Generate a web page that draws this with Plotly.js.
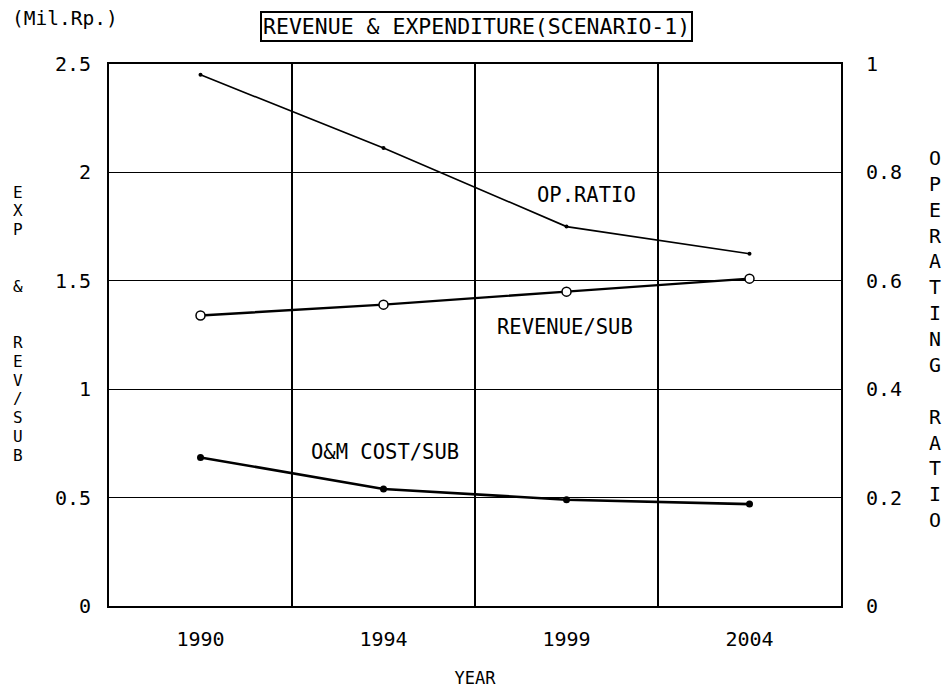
<!DOCTYPE html>
<html>
<head>
<meta charset="utf-8">
<script src="https://cdn.plot.ly/plotly-3.0.1.min.js"></script>
<style>html,body{margin:0;padding:0;background:#fff;}#chart{width:951px;height:696px;}</style>
</head>
<body>
<div id="chart"></div>
<script>
// ---- data ----
const years = ['1990', '1994', '1999', '2004'];
const revenuePerSub = [1.34, 1.39, 1.45, 1.51];
const omCostPerSub = [0.685, 0.54, 0.49, 0.47];
const opRatio = [0.98, 0.845, 0.70, 0.65];
const leftTicks = [0, 0.5, 1, 1.5, 2, 2.5];
const rightTicks = [0, 0.2, 0.4, 0.6, 0.8, 1];
const leftTitleLetters = ['E','X','P','','','&','','','R','E','V','/','S','U','B'];
const rightTitleLetters = ['O','P','E','R','A','T','I','N','G','','R','A','T','I','O'];
const chartTitle = 'REVENUE &amp; EXPENDITURE(SCENARIO-1)';
const unitLabel = '(Mil.Rp.)';

// ---- layout geometry ----
const W = 951, H = 696;
const M = {l: 109, r: 110, t: 64, b: 90};
const PW = W - M.l - M.r, PH = H - M.t - M.b;
const px2x = p => (p - M.l) / PW;
const py2y = p => (H - M.b - p) / PH;
const FONT = '"DejaVu Sans Mono", "Liberation Mono", monospace';
const stack = arr => arr.map(c => c === '&' ? '&amp;' : (c || '\u00A0')).join('<br>');

const traces = [
  {x: years, y: opRatio, yaxis: 'y2', type: 'scatter', mode: 'lines+markers',
   line: {color: '#000', width: 1.6}, marker: {color: '#000', size: 4}},
  {x: years, y: revenuePerSub, type: 'scatter', mode: 'lines+markers',
   line: {color: '#000', width: 2.4},
   marker: {symbol: 'circle', color: '#fff', size: 9, line: {color: '#000', width: 1.5}}},
  {x: years, y: omCostPerSub, type: 'scatter', mode: 'lines+markers',
   line: {color: '#000', width: 2.6}, marker: {symbol: 'circle', color: '#000', size: 7}}
];

const annotations = [
  {text: chartTitle, xref: 'paper', yref: 'paper', x: px2x(476.5), y: py2y(27),
   xanchor: 'center', yanchor: 'middle', showarrow: false,
   font: {family: FONT, size: 21.5, color: '#000'},
   bordercolor: '#000', borderwidth: 2, borderpad: 1, bgcolor: '#fff'},
  {text: unitLabel, xref: 'paper', yref: 'paper', x: px2x(10), y: py2y(18),
   xanchor: 'left', yanchor: 'middle', showarrow: false,
   font: {family: FONT, size: 19.5, color: '#000'}},
  {text: 'OP.RATIO', xref: 'x', yref: 'y', x: 2.11, y: 1.895, showarrow: false,
   font: {family: FONT, size: 20.5, color: '#000'}},
  {text: 'REVENUE/SUB', xref: 'x', yref: 'y', x: 1.99, y: 1.285, showarrow: false,
   font: {family: FONT, size: 20.5, color: '#000'}},
  {text: 'O&amp;M COST/SUB', xref: 'x', yref: 'y', x: 1.01, y: 0.71, showarrow: false,
   font: {family: FONT, size: 20.5, color: '#000'}},
  {text: stack(rightTitleLetters), xref: 'paper', yref: 'paper',
   x: px2x(935), y: py2y(339), xanchor: 'center', yanchor: 'middle', align: 'center',
   showarrow: false, font: {family: FONT, size: 19.9, color: '#000'}}
];

// left axis title: one upright letter per row
leftTitleLetters.forEach((ch, i) => {
  if (!ch) return;
  annotations.push({text: ch === '&' ? '&amp;' : ch, xref: 'paper', yref: 'paper',
    x: px2x(18), y: py2y(192 + i * 18.8), xanchor: 'center', yanchor: 'middle',
    showarrow: false, font: {family: FONT, size: 16, color: '#000'}});
});

const layout = {
  width: W, height: H, margin: M,
  paper_bgcolor: '#fff', plot_bgcolor: '#fff', showlegend: false,
  font: {family: FONT, color: '#000'},
  xaxis: {type: 'category', range: [-0.5, 3.5], tickson: 'boundaries',
    showgrid: true, gridcolor: '#000', gridwidth: 1.2,
    showline: true, mirror: true, linecolor: '#000', linewidth: 2,
    ticks: '', ticklabelstandoff: 14, tickfont: {family: FONT, size: 20},
    title: {text: 'YEAR', font: {family: FONT, size: 17}, standoff: 22}, zeroline: false},
  yaxis: {range: [0, 2.5], tickvals: leftTicks, showgrid: true, gridcolor: '#000', gridwidth: 1.2,
    showline: true, mirror: true, linecolor: '#000', linewidth: 2, zeroline: false,
    ticks: '', ticklabelstandoff: 12, tickfont: {family: FONT, size: 20}},
  yaxis2: {range: [0, 1], tickvals: rightTicks, overlaying: 'y', side: 'right',
    showgrid: false, zeroline: false, showline: false,
    ticks: '', ticklabelstandoff: 24, tickfont: {family: FONT, size: 20}},
  annotations: annotations
};

Plotly.newPlot('chart', traces, layout, {displayModeBar: false, staticPlot: true});
</script>
</body>
</html>
